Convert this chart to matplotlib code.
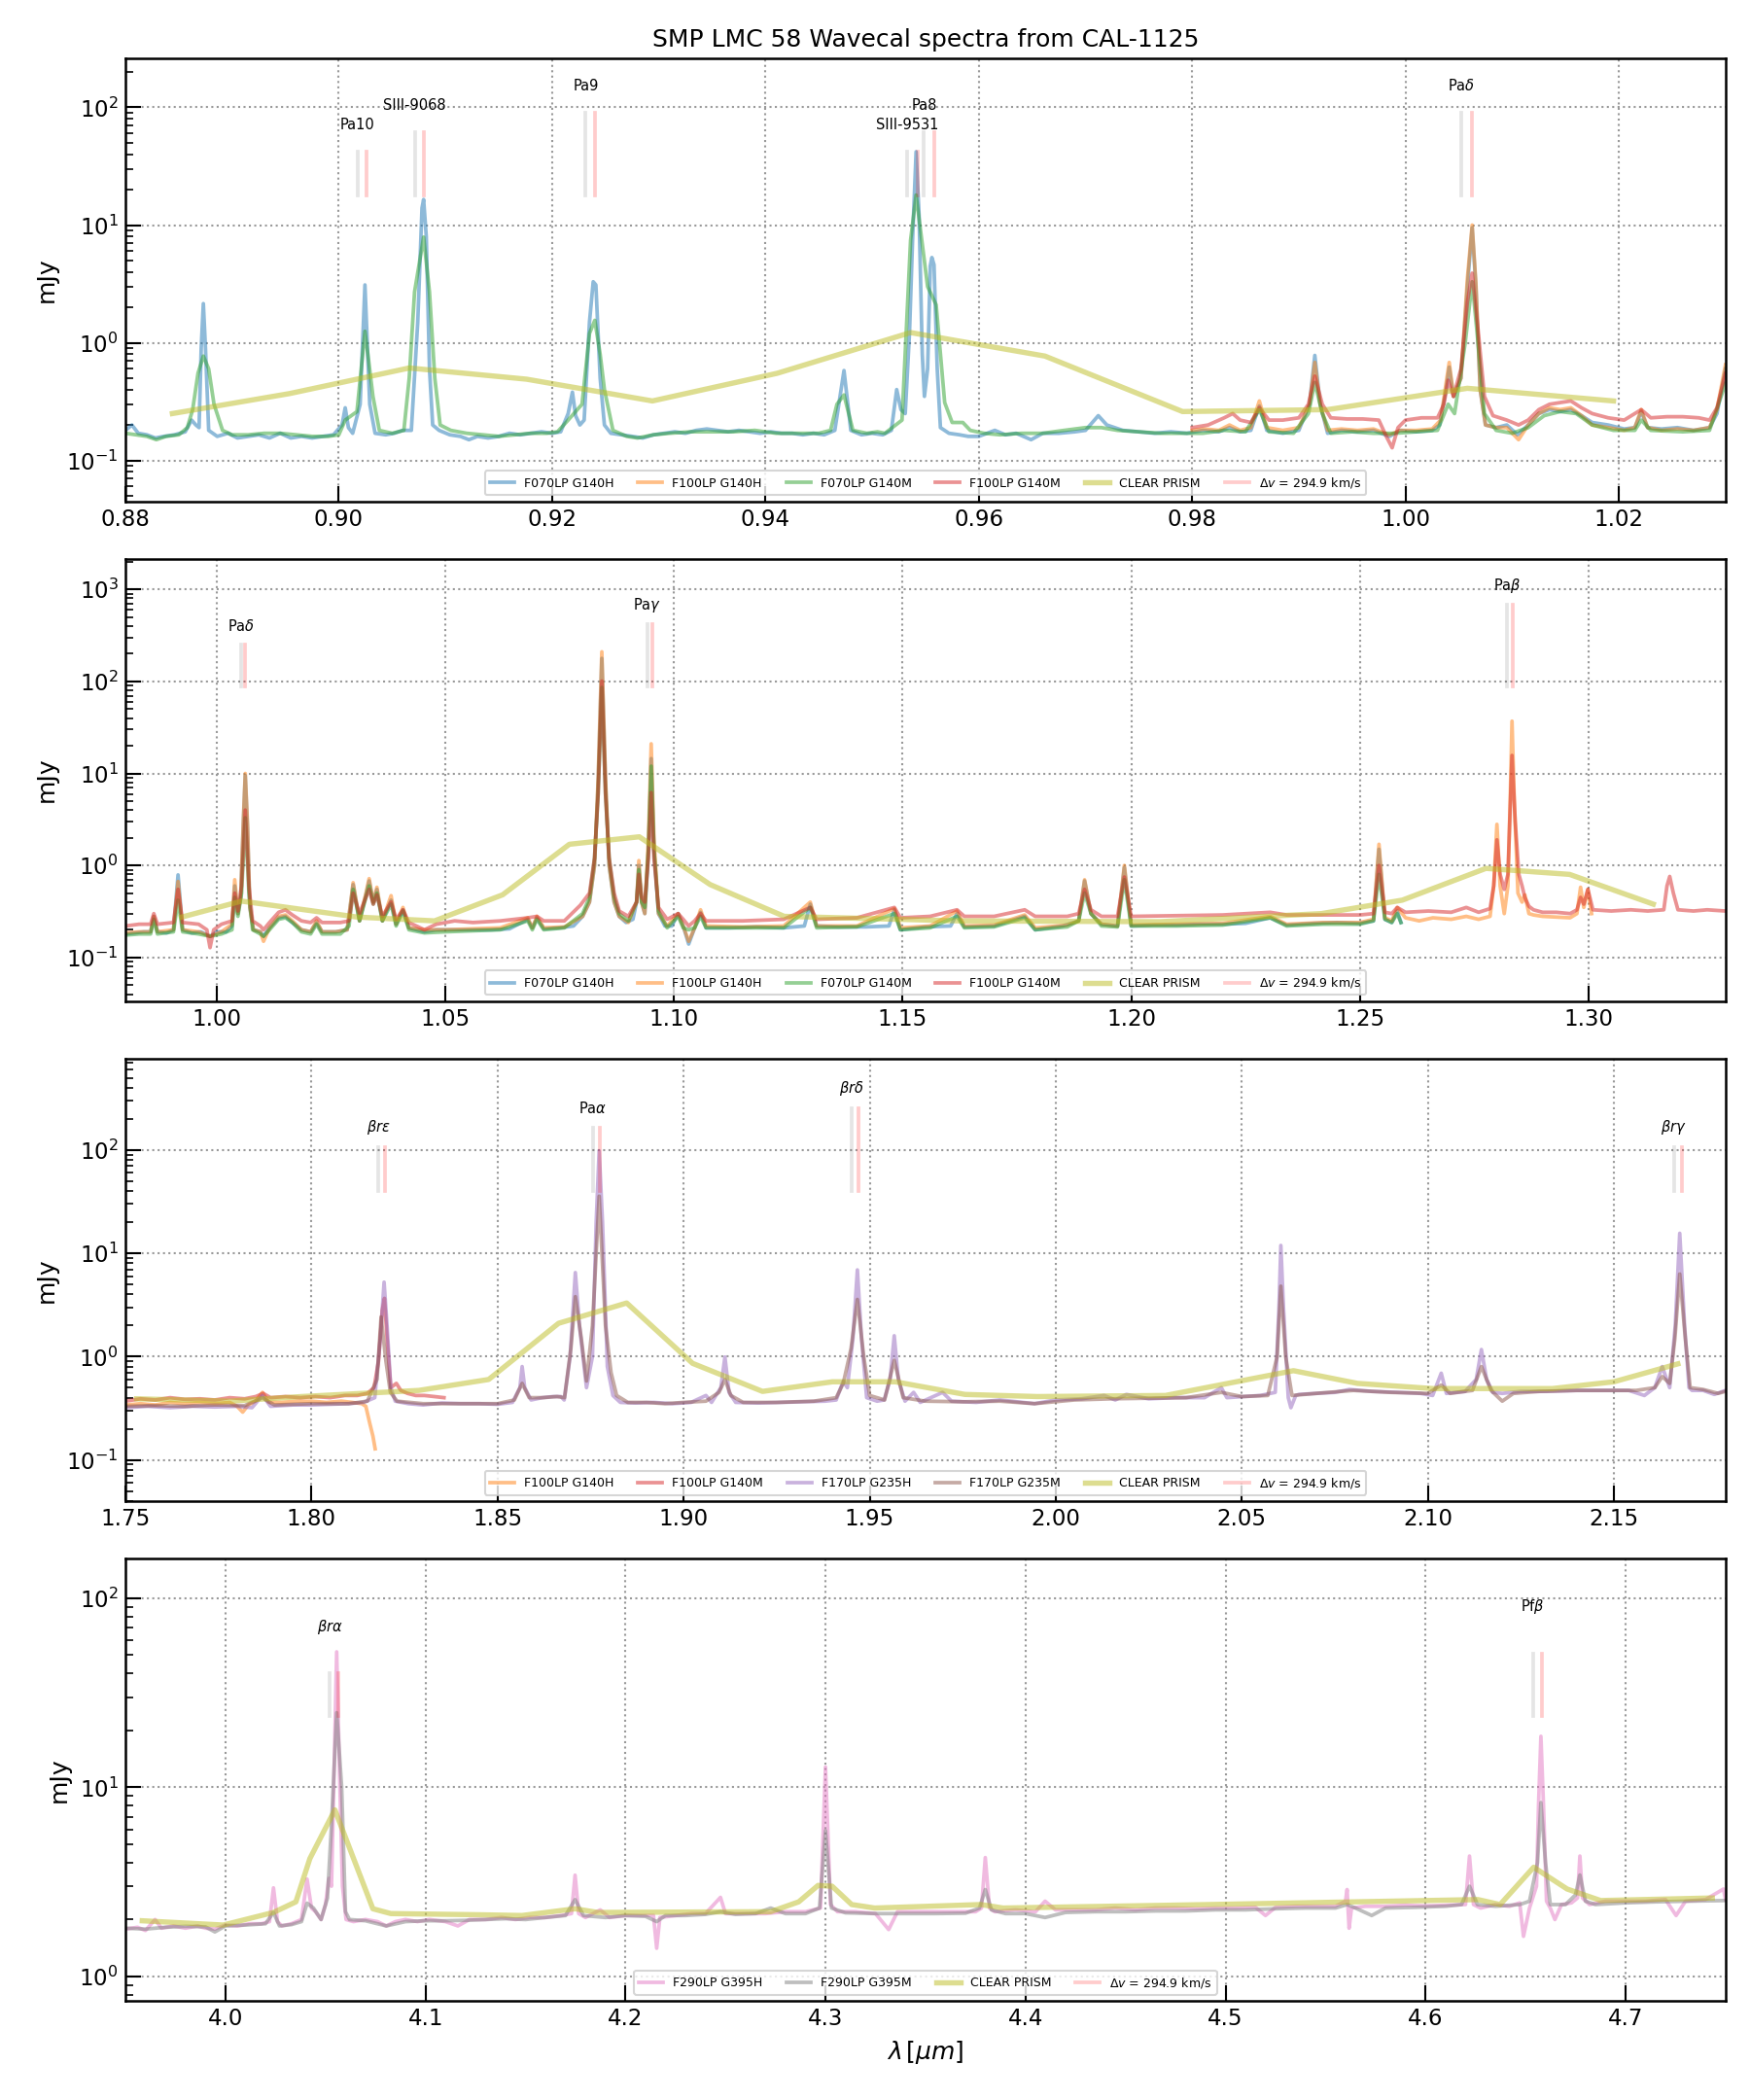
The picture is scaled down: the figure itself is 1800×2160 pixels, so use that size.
"""
Recreate the SMP LMC 58 wavecal spectra comparison (four log-scale panels).
"""

import numpy as np
import matplotlib
matplotlib.use("Agg")
import matplotlib.pyplot as plt
import matplotlib.transforms as mtransforms

OUTPUT_PATH = "out.png"
C_KMS = 299792.458
DELTA_V = 294.9

# ---------------------------------------------------------------- panel 1
P1_F070LP_G140H = [
    (0.8800, 0.18), (0.8806, 0.20), (0.8812, 0.17), (0.8820, 0.165), (0.8828, 0.155),
    (0.8836, 0.16), (0.8846, 0.165), (0.8856, 0.175), (0.8862, 0.22), (0.8866, 0.20),
    (0.8869, 0.19), (0.8871, 0.9), (0.8873, 2.15), (0.8875, 0.9), (0.8878, 0.18),
    (0.8886, 0.16), (0.8896, 0.17), (0.8905, 0.155), (0.8915, 0.16), (0.8925, 0.165),
    (0.8935, 0.155), (0.8945, 0.17), (0.8955, 0.155), (0.8965, 0.16), (0.8975, 0.155),
    (0.8985, 0.16), (0.8995, 0.165), (0.9003, 0.20), (0.9006, 0.28), (0.9009, 0.19),
    (0.9013, 0.17), (0.9020, 0.30), (0.90245, 3.1), (0.9029, 0.30), (0.9034, 0.17),
    (0.9044, 0.165), (0.9052, 0.17), (0.9060, 0.18), (0.9068, 0.18), (0.9074, 1.5),
    (0.9078, 14.0), (0.90795, 16.5), (0.9082, 8.0), (0.9085, 0.6), (0.9088, 0.20),
    (0.9094, 0.18), (0.9104, 0.165), (0.9114, 0.16), (0.9122, 0.15), (0.9130, 0.16),
    (0.9140, 0.155), (0.9150, 0.16), (0.9160, 0.17), (0.9170, 0.165), (0.9180, 0.17),
    (0.9190, 0.175), (0.9200, 0.17), (0.9208, 0.175), (0.9215, 0.25), (0.9219, 0.38),
    (0.9222, 0.24), (0.9226, 0.20), (0.9230, 0.22), (0.9235, 1.5), (0.92385, 3.3),
    (0.9241, 3.1), (0.9245, 0.5), (0.9249, 0.20), (0.9255, 0.17), (0.9265, 0.165),
    (0.9275, 0.16), (0.9285, 0.155), (0.9295, 0.165), (0.9305, 0.17), (0.9315, 0.175),
    (0.9325, 0.17), (0.9335, 0.18), (0.9345, 0.185), (0.9355, 0.18), (0.9365, 0.175),
    (0.9375, 0.18), (0.9385, 0.175), (0.9395, 0.17), (0.9405, 0.175), (0.9415, 0.17),
    (0.9425, 0.17), (0.9435, 0.165), (0.9445, 0.17), (0.9455, 0.165), (0.9465, 0.18),
    (0.94736, 0.58), (0.9480, 0.18), (0.9490, 0.165), (0.9500, 0.17), (0.9510, 0.165),
    (0.9518, 0.18), (0.9523, 0.40), (0.9527, 0.27), (0.9531, 0.25), (0.9535, 1.2),
    (0.9538, 8.0), (0.95412, 42.0), (0.9544, 12.0), (0.9547, 0.8), (0.9549, 0.35),
    (0.9552, 0.6), (0.95545, 4.5), (0.9556, 5.3), (0.9558, 4.6), (0.9561, 0.6),
    (0.9564, 0.19), (0.9572, 0.17), (0.9582, 0.165), (0.9590, 0.16), (0.9600, 0.16),
    (0.9615, 0.18), (0.9625, 0.165), (0.9635, 0.17), (0.9649, 0.15), (0.9660, 0.17),
    (0.9675, 0.17), (0.9690, 0.175), (0.9700, 0.18), (0.9712, 0.24), (0.9720, 0.20),
    (0.9735, 0.18), (0.9750, 0.175), (0.9765, 0.17), (0.9780, 0.175), (0.9795, 0.17),
    (0.9810, 0.18), (0.9825, 0.175), (0.9835, 0.19), (0.9845, 0.175), (0.9855, 0.18),
    (0.9863, 0.29), (0.9870, 0.18), (0.9885, 0.17), (0.9900, 0.18), (0.9910, 0.30),
    (0.9915, 0.78), (0.9920, 0.30), (0.9927, 0.17), (0.9940, 0.18), (0.9955, 0.175),
    (0.9970, 0.18), (0.9985, 0.16), (0.9995, 0.18), (1.0010, 0.175), (1.0025, 0.18),
    (1.0032, 0.20), (1.0038, 0.40), (1.0041, 0.62), (1.0045, 0.35), (1.0052, 0.5),
    (1.0058, 3.0), (1.00625, 9.5), (1.0066, 3.0), (1.0070, 0.4), (1.0075, 0.20),
    (1.0085, 0.19), (1.0095, 0.20), (1.0105, 0.165), (1.0115, 0.20), (1.0125, 0.25),
    (1.0135, 0.27), (1.0145, 0.26), (1.0155, 0.27), (1.0165, 0.24), (1.0175, 0.21),
    (1.0190, 0.20), (1.0205, 0.185), (1.0215, 0.19), (1.0221, 0.26), (1.0227, 0.19),
    (1.0240, 0.185), (1.0255, 0.19), (1.0270, 0.18), (1.0285, 0.19), (1.0292, 0.25),
    (1.0300, 0.60),
]
P1_F100LP_G140H = [
    (0.9800, 0.18), (0.9812, 0.185), (0.9825, 0.18), (0.9835, 0.20), (0.9845, 0.18),
    (0.9855, 0.19), (0.9863, 0.32), (0.9870, 0.19), (0.9885, 0.18), (0.9900, 0.19),
    (0.9910, 0.30), (0.9915, 0.68), (0.9920, 0.30), (0.9927, 0.18), (0.9940, 0.185),
    (0.9955, 0.18), (0.9970, 0.185), (0.9985, 0.165), (0.9995, 0.18), (1.0010, 0.18),
    (1.0025, 0.185), (1.0033, 0.22), (1.0038, 0.45), (1.0041, 0.68), (1.0045, 0.35),
    (1.0052, 0.5), (1.0058, 3.5), (1.00625, 10.0), (1.0066, 3.2), (1.0070, 0.4),
    (1.0075, 0.20), (1.0085, 0.19), (1.0095, 0.19), (1.0106, 0.15), (1.0115, 0.20),
    (1.0125, 0.25), (1.0135, 0.28), (1.0145, 0.27), (1.0155, 0.28), (1.0165, 0.24),
    (1.0175, 0.20), (1.0190, 0.19), (1.0205, 0.18), (1.0215, 0.19), (1.0221, 0.27),
    (1.0227, 0.19), (1.0240, 0.18), (1.0255, 0.185), (1.0270, 0.18), (1.0285, 0.19),
    (1.0292, 0.27), (1.0300, 0.65),
]
P1_F070LP_G140M = [
    (0.8800, 0.17), (0.8810, 0.165), (0.8820, 0.16), (0.8829, 0.15), (0.8838, 0.16),
    (0.8850, 0.165), (0.8858, 0.19), (0.8863, 0.27), (0.8868, 0.55), (0.8873, 0.77),
    (0.8878, 0.6), (0.8883, 0.30), (0.8891, 0.18), (0.8900, 0.165), (0.8915, 0.165),
    (0.8930, 0.17), (0.8945, 0.17), (0.8960, 0.165), (0.8975, 0.16), (0.8990, 0.16),
    (0.9000, 0.165), (0.9006, 0.22), (0.9017, 0.26), (0.9021, 0.6), (0.90245, 1.25),
    (0.9028, 0.7), (0.9032, 0.35), (0.9038, 0.18), (0.9050, 0.17), (0.9061, 0.18),
    (0.9066, 0.5), (0.9071, 2.7), (0.90795, 7.9), (0.9085, 2.7), (0.9090, 0.5),
    (0.9095, 0.20), (0.9105, 0.18), (0.9120, 0.17), (0.9135, 0.165), (0.9150, 0.16),
    (0.9165, 0.165), (0.9180, 0.17), (0.9195, 0.17), (0.9205, 0.175), (0.9215, 0.22),
    (0.9228, 0.30), (0.9235, 1.2), (0.9240, 1.55), (0.9245, 0.8), (0.9249, 0.4),
    (0.9257, 0.18), (0.9270, 0.16), (0.9280, 0.155), (0.9295, 0.165), (0.9310, 0.17),
    (0.9330, 0.175), (0.9350, 0.175), (0.9370, 0.175), (0.9390, 0.18), (0.9410, 0.17),
    (0.9430, 0.17), (0.9450, 0.17), (0.9461, 0.18), (0.9467, 0.30), (0.94736, 0.36),
    (0.9478, 0.25), (0.9482, 0.18), (0.9495, 0.17), (0.9505, 0.175), (0.9512, 0.17),
    (0.9528, 0.22), (0.9536, 7.4), (0.95412, 18.0), (0.9552, 3.0), (0.9560, 2.1),
    (0.9568, 0.31), (0.9575, 0.21), (0.9585, 0.21), (0.9592, 0.18), (0.9605, 0.17),
    (0.9620, 0.165), (0.9640, 0.17), (0.9660, 0.17), (0.9680, 0.18), (0.9700, 0.19),
    (0.9715, 0.19), (0.9730, 0.18), (0.9750, 0.175), (0.9770, 0.17), (0.9790, 0.17),
    (0.9810, 0.17), (0.9830, 0.18), (0.9850, 0.175), (0.9863, 0.27), (0.9872, 0.175),
    (0.9895, 0.17), (0.9909, 0.25), (0.9915, 0.46), (0.9922, 0.25), (0.9930, 0.17),
    (0.9950, 0.175), (0.9970, 0.17), (0.9990, 0.17), (1.0010, 0.175), (1.0030, 0.18),
    (1.0040, 0.30), (1.0046, 0.25), (1.0056, 1.0), (1.00625, 3.3), (1.0068, 1.0),
    (1.0074, 0.25), (1.0085, 0.18), (1.0100, 0.17), (1.0115, 0.19), (1.0130, 0.24),
    (1.0145, 0.26), (1.0160, 0.25), (1.0175, 0.20), (1.0195, 0.18), (1.0215, 0.18),
    (1.0221, 0.22), (1.0230, 0.18), (1.0260, 0.175), (1.0285, 0.18), (1.0300, 0.45),
]
P1_F100LP_G140M = [
    (0.9800, 0.19), (0.9815, 0.20), (0.9830, 0.23), (0.9838, 0.25), (0.9845, 0.22),
    (0.9855, 0.21), (0.9863, 0.28), (0.9872, 0.22), (0.9885, 0.22), (0.9900, 0.23),
    (0.9909, 0.30), (0.9915, 0.52), (0.9922, 0.30), (0.9930, 0.23), (0.9945, 0.225),
    (0.9960, 0.225), (0.9975, 0.22), (0.9982, 0.16), (0.99875, 0.128), (0.9993, 0.19),
    (1.0000, 0.22), (1.0015, 0.23), (1.0030, 0.23), (1.0036, 0.30), (1.0040, 0.48),
    (1.0045, 0.35), (1.0052, 0.6), (1.0058, 2.2), (1.00625, 3.9), (1.0068, 1.3),
    (1.0074, 0.35), (1.0082, 0.24), (1.0095, 0.22), (1.0106, 0.20), (1.0115, 0.22),
    (1.0125, 0.27), (1.0135, 0.30), (1.0145, 0.31), (1.0155, 0.32), (1.0165, 0.28),
    (1.0175, 0.25), (1.0190, 0.23), (1.0205, 0.22), (1.0221, 0.27), (1.0230, 0.23),
    (1.0245, 0.235), (1.0260, 0.235), (1.0275, 0.23), (1.0285, 0.22), (1.0292, 0.28),
    (1.0300, 0.55),
]
P1_CLEAR_PRISM = [
    (0.8844, 0.25), (0.8954, 0.37), (0.9066, 0.61), (0.9176, 0.49), (0.9294, 0.32),
    (0.9411, 0.55), (0.9536, 1.22), (0.9662, 0.77), (0.9791, 0.26), (0.9927, 0.27),
    (1.0058, 0.41), (1.0195, 0.32),
]
P1_LINE_NAMES = ["Pa10", "SIII-9068", "Pa9", "SIII-9531", "Pa8", r"Pa$\delta$"]
P1_LINE_WAVES = [0.90174, 0.90711, 0.92315, 0.95332, 0.95486, 1.00521]
P1_XTICKS = [0.88, 0.90, 0.92, 0.94, 0.96, 0.98, 1.00, 1.02]

# ---------------------------------------------------------------- panel 2
P2_F070LP_G140H = [
    (0.9800, 0.18), (0.9820, 0.185), (0.9840, 0.19), (0.9855, 0.19), (0.9862, 0.28),
    (0.9870, 0.19), (0.9890, 0.185), (0.9905, 0.20), (0.9915, 0.79), (0.9925, 0.20),
    (0.9945, 0.185), (0.9965, 0.19), (0.9985, 0.17), (1.0000, 0.19), (1.0020, 0.19),
    (1.0033, 0.22), (1.0039, 0.6), (1.0046, 0.30), (1.0052, 0.45), (1.0058, 3.0),
    (1.0062, 9.5), (1.0067, 2.5), (1.0072, 0.35), (1.0080, 0.20), (1.0095, 0.19),
    (1.0102, 0.17), (1.0115, 0.21), (1.0135, 0.27), (1.0150, 0.28), (1.0165, 0.24),
    (1.0185, 0.20), (1.0205, 0.19), (1.0218, 0.24), (1.0230, 0.19), (1.0260, 0.19),
    (1.0285, 0.20), (1.0298, 0.62), (1.0312, 0.25), (1.0326, 0.48), (1.0333, 0.68),
    (1.0342, 0.40), (1.0350, 0.55), (1.0362, 0.25), (1.0381, 0.42), (1.0392, 0.23),
    (1.0407, 0.33), (1.0420, 0.21), (1.0454, 0.19), (1.0480, 0.20), (1.0520, 0.20),
    (1.0560, 0.20), (1.0600, 0.20), (1.0640, 0.205), (1.0680, 0.26), (1.0690, 0.21),
    (1.0700, 0.27), (1.0715, 0.205), (1.0750, 0.21), (1.0780, 0.22), (1.0800, 0.28),
    (1.0815, 0.40), (1.0826, 1.0), (1.0834, 8.0), (1.0842, 178.0), (1.0850, 8.0),
    (1.0858, 1.0), (1.0869, 0.40), (1.0880, 0.28), (1.0895, 0.24), (1.0910, 0.26),
    (1.0918, 0.40), (1.0923, 1.0), (1.0929, 0.40), (1.0936, 0.30), (1.0944, 1.5),
    (1.0950, 14.5), (1.0956, 1.5), (1.0966, 0.30), (1.0980, 0.22), (1.0995, 0.22),
    (1.1009, 0.30), (1.1020, 0.22), (1.1032, 0.14), (1.1045, 0.21), (1.1058, 0.31),
    (1.1070, 0.21), (1.1120, 0.21), (1.1180, 0.215), (1.1240, 0.21), (1.1285, 0.22),
    (1.1298, 0.38), (1.1312, 0.22), (1.1360, 0.215), (1.1420, 0.215), (1.1470, 0.22),
    (1.1482, 0.33), (1.1495, 0.20), (1.1550, 0.215), (1.1605, 0.22), (1.1619, 0.30),
    (1.1635, 0.215), (1.1700, 0.22), (1.1767, 0.28), (1.1790, 0.20), (1.1850, 0.22),
    (1.1885, 0.25), (1.1898, 0.68), (1.1912, 0.30), (1.1935, 0.23), (1.1970, 0.22),
    (1.1985, 0.95), (1.2000, 0.22), (1.2050, 0.225), (1.2100, 0.225), (1.2150, 0.23),
    (1.2200, 0.23), (1.2250, 0.235), (1.2304, 0.27), (1.2340, 0.225), (1.2400, 0.235),
    (1.2450, 0.24), (1.2500, 0.235), (1.2530, 0.25), (1.2542, 1.5), (1.2555, 0.26),
    (1.2570, 0.24), (1.2582, 0.32), (1.2590, 0.24),
]
P2_F100LP_G140H = [
    (0.9800, 0.185), (0.9830, 0.19), (0.9855, 0.19), (0.9862, 0.28), (0.9870, 0.19),
    (0.9905, 0.20), (0.9915, 0.67), (0.9925, 0.20), (0.9960, 0.19), (0.9985, 0.17),
    (1.0010, 0.19), (1.0033, 0.23), (1.0039, 0.70), (1.0046, 0.30), (1.0052, 0.45),
    (1.0058, 3.3), (1.0062, 10.0), (1.0067, 2.8), (1.0072, 0.35), (1.0080, 0.20),
    (1.0095, 0.19), (1.0102, 0.15), (1.0115, 0.21), (1.0135, 0.28), (1.0150, 0.29),
    (1.0165, 0.25), (1.0185, 0.20), (1.0205, 0.19), (1.0218, 0.25), (1.0230, 0.19),
    (1.0260, 0.19), (1.0285, 0.20), (1.0298, 0.65), (1.0312, 0.25), (1.0326, 0.50),
    (1.0333, 0.72), (1.0342, 0.40), (1.0350, 0.58), (1.0362, 0.25), (1.0381, 0.47),
    (1.0392, 0.23), (1.0407, 0.35), (1.0420, 0.21), (1.0454, 0.20), (1.0500, 0.20),
    (1.0560, 0.205), (1.0620, 0.21), (1.0680, 0.27), (1.0690, 0.21), (1.0700, 0.28),
    (1.0715, 0.21), (1.0760, 0.215), (1.0800, 0.28), (1.0815, 0.40), (1.0826, 1.0),
    (1.0834, 9.0), (1.0842, 210.0), (1.0850, 9.0), (1.0858, 1.0), (1.0869, 0.40),
    (1.0880, 0.28), (1.0900, 0.24), (1.0918, 0.40), (1.0923, 1.13), (1.0929, 0.40),
    (1.0936, 0.30), (1.0944, 2.0), (1.0950, 21.0), (1.0956, 2.0), (1.0966, 0.30),
    (1.0985, 0.22), (1.1009, 0.30), (1.1020, 0.22), (1.1032, 0.15), (1.1045, 0.21),
    (1.1058, 0.33), (1.1070, 0.22), (1.1150, 0.215), (1.1240, 0.22), (1.1298, 0.40),
    (1.1312, 0.22), (1.1400, 0.22), (1.1482, 0.34), (1.1495, 0.21), (1.1560, 0.22),
    (1.1619, 0.32), (1.1635, 0.22), (1.1700, 0.225), (1.1767, 0.29), (1.1790, 0.21),
    (1.1860, 0.225), (1.1885, 0.25), (1.1898, 0.70), (1.1912, 0.30), (1.1935, 0.23),
    (1.1970, 0.22), (1.1985, 1.0), (1.2000, 0.225), (1.2100, 0.23), (1.2200, 0.235),
    (1.2304, 0.28), (1.2340, 0.23), (1.2420, 0.24), (1.2500, 0.24), (1.2530, 0.26),
    (1.2542, 1.7), (1.2555, 0.27), (1.2570, 0.25), (1.2582, 0.35), (1.2600, 0.27),
    (1.2630, 0.25), (1.2660, 0.27), (1.2700, 0.26), (1.2733, 0.28), (1.2760, 0.26),
    (1.2785, 0.28), (1.2793, 0.6), (1.2800, 2.8), (1.2807, 0.6), (1.2816, 0.30),
    (1.2824, 0.6), (1.2829, 5.0), (1.2833, 37.0), (1.2838, 5.0), (1.2846, 0.5),
    (1.2855, 0.40), (1.2861, 0.48), (1.2870, 0.30), (1.2880, 0.29), (1.2900, 0.28),
    (1.2930, 0.275), (1.2960, 0.27), (1.2975, 0.30), (1.2983, 0.58), (1.2990, 0.35),
    (1.2999, 0.55), (1.3007, 0.30),
]
P2_F070LP_G140M = [
    (0.9800, 0.175), (0.9830, 0.18), (0.9855, 0.18), (0.9862, 0.26), (0.9870, 0.18),
    (0.9905, 0.19), (0.9915, 0.42), (0.9925, 0.19), (0.9960, 0.18), (0.9985, 0.17),
    (1.0010, 0.18), (1.0033, 0.20), (1.0039, 0.45), (1.0046, 0.28), (1.0054, 0.5),
    (1.0062, 3.3), (1.0070, 0.5), (1.0078, 0.20), (1.0095, 0.18), (1.0102, 0.17),
    (1.0115, 0.20), (1.0135, 0.26), (1.0150, 0.27), (1.0165, 0.24), (1.0185, 0.19),
    (1.0205, 0.18), (1.0218, 0.23), (1.0230, 0.18), (1.0270, 0.18), (1.0289, 0.22),
    (1.0298, 0.55), (1.0312, 0.25), (1.0326, 0.45), (1.0333, 0.60), (1.0342, 0.38),
    (1.0350, 0.50), (1.0362, 0.25), (1.0381, 0.38), (1.0392, 0.22), (1.0407, 0.32),
    (1.0420, 0.20), (1.0454, 0.185), (1.0500, 0.19), (1.0560, 0.195), (1.0620, 0.20),
    (1.0680, 0.25), (1.0690, 0.20), (1.0700, 0.26), (1.0715, 0.20), (1.0760, 0.21),
    (1.0800, 0.30), (1.0815, 0.45), (1.0826, 1.2), (1.0834, 6.0), (1.0842, 86.0),
    (1.0850, 6.0), (1.0858, 1.2), (1.0869, 0.45), (1.0880, 0.30), (1.0900, 0.25),
    (1.0918, 0.40), (1.0923, 0.9), (1.0929, 0.40), (1.0936, 0.35), (1.0944, 1.5),
    (1.0950, 12.0), (1.0956, 1.5), (1.0966, 0.32), (1.0985, 0.21), (1.1009, 0.28),
    (1.1020, 0.21), (1.1032, 0.20), (1.1045, 0.21), (1.1058, 0.28), (1.1070, 0.21),
    (1.1150, 0.21), (1.1240, 0.21), (1.1298, 0.35), (1.1312, 0.21), (1.1400, 0.215),
    (1.1482, 0.30), (1.1495, 0.20), (1.1560, 0.21), (1.1619, 0.28), (1.1635, 0.21),
    (1.1700, 0.215), (1.1767, 0.27), (1.1790, 0.20), (1.1860, 0.215), (1.1885, 0.25),
    (1.1898, 0.50), (1.1912, 0.30), (1.1935, 0.22), (1.1970, 0.215), (1.1985, 0.70),
    (1.2000, 0.22), (1.2100, 0.22), (1.2200, 0.225), (1.2304, 0.27), (1.2340, 0.22),
    (1.2420, 0.23), (1.2500, 0.23), (1.2530, 0.25), (1.2542, 0.8), (1.2555, 0.26),
    (1.2570, 0.24), (1.2582, 0.30), (1.2590, 0.24),
]
P2_F100LP_G140M = [
    (0.9800, 0.22), (0.9830, 0.23), (0.9855, 0.23), (0.9862, 0.30), (0.9870, 0.23),
    (0.9905, 0.24), (0.9915, 0.55), (0.9925, 0.24), (0.9960, 0.23), (0.9978, 0.20),
    (0.9985, 0.128), (0.9993, 0.20), (1.0010, 0.23), (1.0033, 0.25), (1.0039, 0.50),
    (1.0046, 0.32), (1.0054, 0.6), (1.0062, 4.0), (1.0070, 0.6), (1.0078, 0.25),
    (1.0095, 0.22), (1.0102, 0.20), (1.0115, 0.24), (1.0135, 0.31), (1.0150, 0.33),
    (1.0165, 0.29), (1.0185, 0.25), (1.0205, 0.24), (1.0218, 0.27), (1.0230, 0.24),
    (1.0270, 0.24), (1.0289, 0.25), (1.0298, 0.50), (1.0312, 0.30), (1.0326, 0.45),
    (1.0333, 0.55), (1.0342, 0.38), (1.0350, 0.48), (1.0362, 0.28), (1.0381, 0.40),
    (1.0392, 0.26), (1.0407, 0.33), (1.0420, 0.24), (1.0454, 0.20), (1.0480, 0.23),
    (1.0520, 0.25), (1.0560, 0.24), (1.0620, 0.25), (1.0680, 0.27), (1.0700, 0.28),
    (1.0715, 0.25), (1.0760, 0.25), (1.0795, 0.37), (1.0815, 0.50), (1.0826, 1.2),
    (1.0834, 6.0), (1.0842, 101.0), (1.0850, 6.0), (1.0858, 1.2), (1.0869, 0.50),
    (1.0880, 0.32), (1.0900, 0.28), (1.0918, 0.40), (1.0923, 0.80), (1.0929, 0.45),
    (1.0936, 0.40), (1.0944, 1.2), (1.0950, 6.2), (1.0956, 1.2), (1.0966, 0.35),
    (1.0985, 0.26), (1.1009, 0.30), (1.1020, 0.26), (1.1032, 0.22), (1.1045, 0.25),
    (1.1058, 0.30), (1.1070, 0.25), (1.1150, 0.25), (1.1240, 0.26), (1.1298, 0.35),
    (1.1312, 0.26), (1.1400, 0.27), (1.1482, 0.35), (1.1495, 0.27), (1.1560, 0.28),
    (1.1619, 0.33), (1.1635, 0.28), (1.1700, 0.28), (1.1767, 0.33), (1.1790, 0.28),
    (1.1860, 0.28), (1.1885, 0.30), (1.1898, 0.55), (1.1912, 0.33), (1.1935, 0.28),
    (1.1970, 0.28), (1.1985, 0.75), (1.2000, 0.28), (1.2100, 0.285), (1.2200, 0.29),
    (1.2304, 0.31), (1.2340, 0.29), (1.2420, 0.29), (1.2500, 0.29), (1.2530, 0.30),
    (1.2542, 1.0), (1.2555, 0.31), (1.2570, 0.30), (1.2582, 0.35), (1.2600, 0.31),
    (1.2650, 0.32), (1.2700, 0.31), (1.2733, 0.35), (1.2760, 0.31), (1.2785, 0.34),
    (1.2793, 0.6), (1.2800, 1.9), (1.2807, 0.8), (1.2816, 0.55), (1.2824, 0.8),
    (1.2828, 3.0), (1.2833, 15.7), (1.2840, 3.0), (1.2848, 0.8), (1.2855, 0.6),
    (1.2861, 0.45), (1.2870, 0.36), (1.2880, 0.33), (1.2900, 0.31), (1.2930, 0.31),
    (1.2960, 0.30), (1.2975, 0.33), (1.2983, 0.45), (1.2990, 0.38), (1.2999, 0.55),
    (1.3010, 0.33), (1.3050, 0.32), (1.3093, 0.33), (1.3130, 0.32), (1.3165, 0.33),
    (1.3172, 0.6), (1.3178, 0.76), (1.3186, 0.5), (1.3196, 0.33), (1.3230, 0.32),
    (1.3260, 0.33), (1.3300, 0.32),
]
P2_CLEAR_PRISM = [
    (0.9923, 0.275), (1.0054, 0.41), (1.0307, 0.275), (1.0476, 0.25), (1.0625, 0.48),
    (1.0771, 1.70), (1.0924, 2.05), (1.1079, 0.62), (1.1241, 0.28), (1.1624, 0.25),
    (1.2063, 0.245), (1.2416, 0.30), (1.2593, 0.42), (1.2776, 0.93), (1.2959, 0.80),
    (1.3142, 0.38),
]
P2_LINE_NAMES = [r"Pa$\delta$", r"Pa$\gamma$", r"Pa$\beta$"]
P2_LINE_WAVES = [1.00521, 1.09411, 1.28216]
P2_XTICKS = [1.00, 1.05, 1.10, 1.15, 1.20, 1.25, 1.30]

# ---------------------------------------------------------------- panel 3
P3_F100LP_G140H = [
    (1.7500, 0.34), (1.7540, 0.35), (1.7580, 0.34), (1.7620, 0.36), (1.7660, 0.35),
    (1.7700, 0.36), (1.7740, 0.35), (1.7780, 0.36), (1.7800, 0.33), (1.7815, 0.29),
    (1.7830, 0.34), (1.7850, 0.37), (1.7868, 0.45), (1.7885, 0.36), (1.7920, 0.36),
    (1.7960, 0.37), (1.8000, 0.37), (1.8040, 0.36), (1.8080, 0.37), (1.8110, 0.36),
    (1.8135, 0.35), (1.8146, 0.33), (1.8156, 0.23), (1.8165, 0.17), (1.8171, 0.128),
]
P3_F100LP_G140M = [
    (1.7500, 0.37), (1.7540, 0.39), (1.7580, 0.38), (1.7620, 0.40), (1.7660, 0.385),
    (1.7700, 0.39), (1.7740, 0.38), (1.7780, 0.40), (1.7820, 0.39), (1.7850, 0.41),
    (1.7870, 0.44), (1.7890, 0.40), (1.7930, 0.41), (1.7970, 0.40), (1.8010, 0.41),
    (1.8050, 0.40), (1.8090, 0.42), (1.8123, 0.42), (1.8150, 0.44), (1.8168, 0.50),
    (1.8180, 0.9), (1.8190, 2.8), (1.8196, 3.66), (1.8203, 1.5), (1.8213, 0.50),
    (1.8228, 0.55), (1.8240, 0.47), (1.8258, 0.44), (1.8280, 0.42), (1.8303, 0.42),
    (1.8330, 0.41), (1.8356, 0.40),
]
P3_F170LP_G235H = [
    (1.7500, 0.32), (1.7560, 0.33), (1.7620, 0.32), (1.7680, 0.33), (1.7740, 0.325),
    (1.7800, 0.33), (1.7840, 0.32), (1.7868, 0.42), (1.7890, 0.33), (1.7950, 0.34),
    (1.8000, 0.34), (1.8050, 0.345), (1.8100, 0.35), (1.8140, 0.36), (1.8170, 0.40),
    (1.8185, 1.5), (1.8195, 5.25), (1.8203, 2.0), (1.8213, 0.50), (1.8225, 0.37),
    (1.8260, 0.35), (1.8300, 0.34), (1.8350, 0.355), (1.8400, 0.35), (1.8450, 0.35),
    (1.8500, 0.345), (1.8540, 0.36), (1.8560, 0.50), (1.8566, 0.80), (1.8573, 0.50),
    (1.8590, 0.38), (1.8620, 0.40), (1.8650, 0.41), (1.8670, 0.41), (1.8679, 0.38),
    (1.8695, 1.0), (1.8709, 6.5), (1.8720, 2.0), (1.8739, 0.50), (1.8755, 1.0),
    (1.8765, 20.0), (1.8773, 98.0), (1.8782, 20.0), (1.8795, 0.8), (1.8810, 0.42),
    (1.8830, 0.36), (1.8870, 0.355), (1.8920, 0.36), (1.8970, 0.35), (1.9020, 0.36),
    (1.9060, 0.42), (1.9075, 0.36), (1.9100, 0.50), (1.9111, 0.99), (1.9122, 0.45),
    (1.9140, 0.36), (1.9200, 0.355), (1.9260, 0.36), (1.9320, 0.365), (1.9380, 0.37),
    (1.9410, 0.38), (1.9429, 0.58), (1.9440, 0.50), (1.9455, 1.5), (1.9467, 6.9),
    (1.9478, 1.5), (1.9492, 0.40), (1.9520, 0.37), (1.9539, 0.38), (1.9555, 0.6),
    (1.9566, 1.59), (1.9577, 0.6), (1.9595, 0.37), (1.9618, 0.45), (1.9636, 0.36),
    (1.9696, 0.45), (1.9720, 0.37), (1.9786, 0.36), (1.9850, 0.38), (1.9943, 0.35),
    (2.0000, 0.38), (2.0070, 0.39), (2.0130, 0.42), (2.0160, 0.38), (2.0190, 0.43),
    (2.0250, 0.39), (2.0320, 0.40), (2.0400, 0.40), (2.0445, 0.50), (2.0460, 0.40),
    (2.0550, 0.42), (2.0590, 0.45), (2.0600, 3.0), (2.0605, 11.9), (2.0612, 3.0),
    (2.0625, 0.40), (2.0632, 0.32), (2.0645, 0.42), (2.0654, 0.43), (2.0700, 0.44),
    (2.0750, 0.45), (2.0789, 0.48), (2.0850, 0.46), (2.0920, 0.45), (2.0980, 0.44),
    (2.1013, 0.42), (2.1036, 0.69), (2.1050, 0.44), (2.1100, 0.46), (2.1130, 0.6),
    (2.1144, 1.17), (2.1158, 0.6), (2.1175, 0.45), (2.1200, 0.44), (2.1250, 0.46),
    (2.1320, 0.46), (2.1400, 0.47), (2.1480, 0.47), (2.1540, 0.47), (2.1582, 0.42),
    (2.1610, 0.50), (2.1630, 0.80), (2.1650, 0.50), (2.1665, 2.0), (2.1677, 15.6),
    (2.1690, 2.0), (2.1702, 0.50), (2.1710, 0.47), (2.1740, 0.47), (2.1770, 0.43),
    (2.1800, 0.47),
]
P3_F170LP_G235M = [
    (1.7500, 0.33), (1.7580, 0.335), (1.7660, 0.33), (1.7740, 0.34), (1.7820, 0.335),
    (1.7868, 0.40), (1.7900, 0.34), (1.8000, 0.35), (1.8100, 0.35), (1.8150, 0.37),
    (1.8176, 0.6), (1.8187, 2.42), (1.8200, 0.9), (1.8212, 0.45), (1.8230, 0.37),
    (1.8300, 0.35), (1.8400, 0.35), (1.8500, 0.35), (1.8545, 0.38), (1.8566, 0.55),
    (1.8585, 0.40), (1.8620, 0.40), (1.8660, 0.41), (1.8680, 0.40), (1.8697, 1.2),
    (1.8709, 3.8), (1.8725, 1.5), (1.8739, 0.58), (1.8755, 2.0), (1.8773, 35.7),
    (1.8790, 2.0), (1.8805, 0.7), (1.8820, 0.42), (1.8850, 0.36), (1.8900, 0.36),
    (1.8950, 0.35), (1.9000, 0.36), (1.9060, 0.37), (1.9095, 0.45), (1.9111, 0.60),
    (1.9127, 0.42), (1.9160, 0.36), (1.9250, 0.36), (1.9350, 0.37), (1.9410, 0.40),
    (1.9429, 0.55), (1.9450, 1.2), (1.9467, 3.57), (1.9484, 1.0), (1.9500, 0.42),
    (1.9540, 0.38), (1.9566, 0.92), (1.9590, 0.40), (1.9650, 0.37), (1.9750, 0.365),
    (1.9850, 0.37), (1.9943, 0.35), (2.0050, 0.38), (2.0150, 0.39), (2.0250, 0.395),
    (2.0350, 0.40), (2.0445, 0.45), (2.0500, 0.41), (2.0570, 0.42), (2.0595, 1.0),
    (2.0605, 4.8), (2.0618, 1.0), (2.0635, 0.42), (2.0700, 0.44), (2.0800, 0.47),
    (2.0900, 0.45), (2.1000, 0.44), (2.1036, 0.53), (2.1060, 0.44), (2.1120, 0.47),
    (2.1144, 0.80), (2.1170, 0.47), (2.1200, 0.37), (2.1230, 0.44), (2.1300, 0.46),
    (2.1400, 0.47), (2.1500, 0.47), (2.1560, 0.47), (2.1610, 0.50), (2.1630, 0.64),
    (2.1650, 0.55), (2.1664, 1.5), (2.1677, 6.3), (2.1692, 1.5), (2.1705, 0.50),
    (2.1740, 0.48), (2.1780, 0.44), (2.1800, 0.46),
]
P3_CLEAR_PRISM = [
    (1.7530, 0.39), (1.7780, 0.37), (1.7973, 0.41), (1.8288, 0.47), (1.8476, 0.60),
    (1.8664, 2.1), (1.8847, 3.3), (1.9024, 0.86), (1.9212, 0.46), (1.9400, 0.57),
    (1.9569, 0.57), (1.9756, 0.43), (1.9951, 0.41), (2.0295, 0.42), (2.0639, 0.73),
    (2.0811, 0.55), (2.1013, 0.49), (2.1335, 0.49), (2.1500, 0.57), (2.1672, 0.85),
]
P3_LINE_NAMES = [r"$\beta r\epsilon$", r"Pa$\alpha$", r"$\beta r\delta$", r"$\beta r\gamma$"]
P3_LINE_WAVES = [1.81791, 1.87561, 1.94509, 2.16612]
P3_XTICKS = [1.75, 1.80, 1.85, 1.90, 1.95, 2.00, 2.05, 2.10, 2.15]

# ---------------------------------------------------------------- panel 4
P4_F290LP_G395H = [
    (3.9500, 1.78), (3.9560, 1.82), (3.9600, 1.75), (3.9648, 2.0), (3.9680, 1.80),
    (3.9740, 1.85), (3.9800, 1.80), (3.9860, 1.85), (3.9900, 1.80), (3.9947, 1.78),
    (4.0000, 1.87), (4.0060, 1.85), (4.0120, 1.90), (4.0180, 1.90), (4.0220, 1.95),
    (4.0240, 2.94), (4.0260, 1.95), (4.0282, 1.85), (4.0330, 1.90), (4.0380, 2.0),
    (4.0408, 3.27), (4.0430, 2.3), (4.0450, 2.2), (4.0478, 2.0), (4.0500, 2.4),
    (4.0517, 3.3), (4.0530, 3.0), (4.0545, 15.0), (4.0556, 52.0), (4.0568, 15.0),
    (4.0585, 3.0), (4.0603, 2.0), (4.0640, 1.95), (4.0700, 2.0), (4.0760, 1.95),
    (4.0804, 1.85), (4.0850, 1.95), (4.0900, 2.0), (4.0960, 1.95), (4.1020, 2.0),
    (4.1100, 1.95), (4.1162, 1.85), (4.1220, 2.0), (4.1300, 2.0), (4.1380, 2.05),
    (4.1450, 2.0), (4.1520, 2.05), (4.1600, 2.05), (4.1680, 2.1), (4.1730, 2.15),
    (4.1748, 3.43), (4.1766, 2.15), (4.1800, 2.05), (4.1874, 2.25), (4.1920, 2.05),
    (4.2000, 2.1), (4.2080, 2.1), (4.2140, 2.1), (4.2156, 1.41), (4.2172, 2.05),
    (4.2250, 2.1), (4.2330, 2.15), (4.2400, 2.15), (4.2475, 2.62), (4.2500, 2.15),
    (4.2600, 2.15), (4.2700, 2.15), (4.2800, 2.2), (4.2900, 2.2), (4.2975, 2.3),
    (4.3000, 12.8), (4.3025, 2.4), (4.3060, 2.2), (4.3150, 2.2), (4.3250, 2.15),
    (4.3316, 1.77), (4.3360, 2.2), (4.3450, 2.2), (4.3550, 2.2), (4.3650, 2.2),
    (4.3750, 2.2), (4.3780, 2.3), (4.3799, 4.25), (4.3820, 2.3), (4.3846, 2.2),
    (4.3950, 2.25), (4.4050, 2.2), (4.4098, 2.5), (4.4150, 2.25), (4.4250, 2.25),
    (4.4350, 2.25), (4.4450, 2.3), (4.4550, 2.25), (4.4650, 2.3), (4.4750, 2.3),
    (4.4850, 2.28), (4.4950, 2.3), (4.5050, 2.3), (4.5150, 2.32), (4.5200, 2.1),
    (4.5250, 2.32), (4.5350, 2.35), (4.5450, 2.35), (4.5550, 2.35), (4.5600, 2.5),
    (4.5608, 2.88), (4.5618, 1.8), (4.5630, 2.3), (4.5700, 2.35), (4.5800, 2.35),
    (4.5900, 2.38), (4.6000, 2.36), (4.6100, 2.38), (4.6200, 2.4), (4.6220, 4.33),
    (4.6240, 2.4), (4.6276, 2.3), (4.6350, 2.4), (4.6420, 2.35), (4.6471, 2.45),
    (4.6490, 1.63), (4.6520, 2.3), (4.6555, 3.0), (4.6565, 8.0), (4.6577, 18.6),
    (4.6590, 8.0), (4.6605, 2.5), (4.6624, 2.3), (4.6647, 2.0), (4.6680, 2.4),
    (4.6730, 2.45), (4.6760, 2.6), (4.6772, 4.33), (4.6785, 2.6), (4.6820, 2.4),
    (4.6900, 2.5), (4.7000, 2.5), (4.7100, 2.5), (4.7200, 2.55), (4.7253, 2.1),
    (4.7300, 2.5), (4.7400, 2.55), (4.7490, 2.9), (4.7500, 2.55),
]
P4_F290LP_G395M = [
    (3.9500, 1.80), (3.9600, 1.78), (3.9700, 1.82), (3.9800, 1.84), (3.9900, 1.83),
    (3.9947, 1.72), (4.0000, 1.85), (4.0100, 1.87), (4.0200, 1.90), (4.0240, 2.18),
    (4.0270, 1.85), (4.0330, 1.88), (4.0380, 1.95), (4.0408, 2.44), (4.0440, 2.3),
    (4.0478, 2.0), (4.0510, 2.6), (4.0530, 6.3), (4.0556, 24.8), (4.0581, 10.0),
    (4.0600, 2.2), (4.0620, 2.0), (4.0700, 1.97), (4.0804, 1.85), (4.0900, 1.95),
    (4.1000, 1.97), (4.1100, 1.97), (4.1200, 1.98), (4.1300, 2.0), (4.1400, 2.02),
    (4.1500, 2.0), (4.1600, 2.05), (4.1700, 2.1), (4.1748, 2.55), (4.1790, 2.1),
    (4.1900, 2.05), (4.2000, 2.1), (4.2100, 2.08), (4.2156, 1.95), (4.2200, 2.1),
    (4.2300, 2.1), (4.2400, 2.13), (4.2475, 2.2), (4.2550, 2.13), (4.2650, 2.15),
    (4.2726, 2.3), (4.2800, 2.15), (4.2900, 2.15), (4.2970, 2.3), (4.3000, 5.9),
    (4.3030, 2.3), (4.3100, 2.17), (4.3250, 2.15), (4.3400, 2.15), (4.3550, 2.15),
    (4.3700, 2.16), (4.3770, 2.3), (4.3799, 2.88), (4.3830, 2.25), (4.3900, 2.15),
    (4.4000, 2.15), (4.4098, 2.05), (4.4200, 2.18), (4.4350, 2.2), (4.4500, 2.2),
    (4.4650, 2.22), (4.4800, 2.22), (4.4950, 2.25), (4.5100, 2.25), (4.5250, 2.28),
    (4.5400, 2.3), (4.5550, 2.3), (4.5608, 2.4), (4.5650, 2.3), (4.5731, 2.1),
    (4.5800, 2.3), (4.5950, 2.32), (4.6100, 2.35), (4.6180, 2.4), (4.6220, 3.0),
    (4.6260, 2.4), (4.6350, 2.35), (4.6471, 2.4), (4.6520, 2.5), (4.6560, 4.0),
    (4.6577, 8.3), (4.6600, 4.0), (4.6624, 2.4), (4.6700, 2.4), (4.6750, 2.7),
    (4.6772, 3.44), (4.6800, 2.5), (4.6850, 2.4), (4.7000, 2.45), (4.7150, 2.48),
    (4.7300, 2.5), (4.7500, 2.52),
]
P4_CLEAR_PRISM = [
    (3.9584, 1.97), (3.9989, 1.87), (4.0240, 2.18), (4.0352, 2.48), (4.0422, 4.2),
    (4.0547, 7.6), (4.0737, 2.28), (4.0827, 2.15), (4.1260, 2.12), (4.1483, 2.10),
    (4.1748, 2.28), (4.1860, 2.18), (4.2726, 2.20), (4.2866, 2.48), (4.2963, 3.03),
    (4.3033, 3.00), (4.3131, 2.40), (4.3246, 2.30), (4.3777, 2.40), (4.3888, 2.30),
    (4.4921, 2.40), (4.6262, 2.55), (4.6373, 2.40), (4.6541, 3.78), (4.6708, 2.90),
    (4.6876, 2.52), (4.7434, 2.60),
]
P4_LINE_NAMES = [r"$\beta r\alpha$", r"Pf$\beta$"]
P4_LINE_WAVES = [4.05226, 4.65378]
P4_XTICKS = [4.0, 4.1, 4.2, 4.3, 4.4, 4.5, 4.6, 4.7]

# colour per instrument configuration (tab10 order)
CONFIG_COLORS = {
    "F070LP G140H": "tab:blue",
    "F100LP G140H": "tab:orange",
    "F070LP G140M": "tab:green",
    "F100LP G140M": "tab:red",
    "F170LP G235H": "tab:purple",
    "F170LP G235M": "tab:brown",
    "F290LP G395H": "tab:pink",
    "F290LP G395M": "tab:gray",
    "CLEAR PRISM": "tab:olive",
}


def plot_spectrum(ax, pairs, label):
    wave, flux = np.array(pairs).T
    lw = 2.6 if label == "CLEAR PRISM" else 1.8
    ax.plot(wave, flux, color=CONFIG_COLORS[label], alpha=0.5, lw=lw, label=label)


def mark_lines(ax, names, waves, y0, tops, dy):
    """Short rest-frame (grey) and shifted (pink) bars with the line name above."""
    trans = mtransforms.blended_transform_factory(ax.transData, ax.transAxes)
    shift = 1.0 + DELTA_V / C_KMS
    for i, (name, wave) in enumerate(zip(names, waves)):
        top = tops[i % len(tops)]
        ax.plot([wave, wave], [y0, top], color="k", alpha=0.1, lw=1.8,
                transform=trans)
        lab = r"$\Delta v$ = %.1f km/s" % DELTA_V if i == 0 else None
        ax.plot([wave * shift] * 2, [y0, top], color="r", alpha=0.2, lw=1.8,
                transform=trans, label=lab)
        ax.text(wave, top + dy, name, transform=trans, ha="center", va="center",
                fontsize=7)


def style_axis(ax, xlim, ylim, xticks):
    ax.set_yscale("log")
    ax.set_xlim(*xlim)
    ax.set_ylim(*ylim)
    ax.set_xticks(xticks)
    ax.set_ylabel("mJy", fontsize=12)
    ax.grid(True, which="major", ls=":", lw=1.0, color="0.6")
    ax.tick_params(which="both", direction="in", top=False, right=False,
                   labelsize=11)
    ax.tick_params(which="major", length=7.5, width=1.0)
    ax.tick_params(which="minor", length=4, width=0.8)
    for sp in ax.spines.values():
        sp.set_linewidth(1.2)
    ax.legend(loc="lower center", ncol=6, fontsize=6, handlelength=2.0)


def main():
    fig, axes = plt.subplots(4, 1, figsize=(12, 14.4))
    fig.subplots_adjust(left=0.0717, right=0.986, top=0.972, bottom=0.0472,
                        hspace=0.13)

    ax = axes[0]
    plot_spectrum(ax, P1_F070LP_G140H, "F070LP G140H")
    plot_spectrum(ax, P1_F100LP_G140H, "F100LP G140H")
    plot_spectrum(ax, P1_F070LP_G140M, "F070LP G140M")
    plot_spectrum(ax, P1_F100LP_G140M, "F100LP G140M")
    plot_spectrum(ax, P1_CLEAR_PRISM, "CLEAR PRISM")
    mark_lines(ax, P1_LINE_NAMES, P1_LINE_WAVES, 0.692, [0.791, 0.835, 0.879], 0.06)
    style_axis(ax, (0.88, 1.03), (0.045, 259), P1_XTICKS)
    ax.set_title("SMP LMC 58 Wavecal spectra from CAL-1125", fontsize=12)

    ax = axes[1]
    plot_spectrum(ax, P2_F070LP_G140H, "F070LP G140H")
    plot_spectrum(ax, P2_F100LP_G140H, "F100LP G140H")
    plot_spectrum(ax, P2_F070LP_G140M, "F070LP G140M")
    plot_spectrum(ax, P2_F100LP_G140M, "F100LP G140M")
    plot_spectrum(ax, P2_CLEAR_PRISM, "CLEAR PRISM")
    mark_lines(ax, P2_LINE_NAMES, P2_LINE_WAVES, 0.711, [0.806, 0.853, 0.897], 0.041)
    style_axis(ax, (0.98, 1.33), (0.0336, 2157), P2_XTICKS)

    ax = axes[2]
    plot_spectrum(ax, P3_F100LP_G140H, "F100LP G140H")
    plot_spectrum(ax, P3_F100LP_G140M, "F100LP G140M")
    plot_spectrum(ax, P3_F170LP_G235H, "F170LP G235H")
    plot_spectrum(ax, P3_F170LP_G235M, "F170LP G235M")
    plot_spectrum(ax, P3_CLEAR_PRISM, "CLEAR PRISM")
    mark_lines(ax, P3_LINE_NAMES, P3_LINE_WAVES, 0.70, [0.80, 0.844, 0.888], 0.044)
    style_axis(ax, (1.75, 2.18), (0.040, 766), P3_XTICKS)

    ax = axes[3]
    plot_spectrum(ax, P4_F290LP_G395H, "F290LP G395H")
    plot_spectrum(ax, P4_F290LP_G395M, "F290LP G395M")
    plot_spectrum(ax, P4_CLEAR_PRISM, "CLEAR PRISM")
    mark_lines(ax, P4_LINE_NAMES, P4_LINE_WAVES, 0.644, [0.74, 0.785], 0.106)
    style_axis(ax, (3.95, 4.75), (0.743, 162), P4_XTICKS)
    ax.set_xlabel(r"$\lambda\,[\mu m]$", fontsize=12)

    fig.savefig(OUTPUT_PATH, dpi=150)


if __name__ == "__main__":
    main()
